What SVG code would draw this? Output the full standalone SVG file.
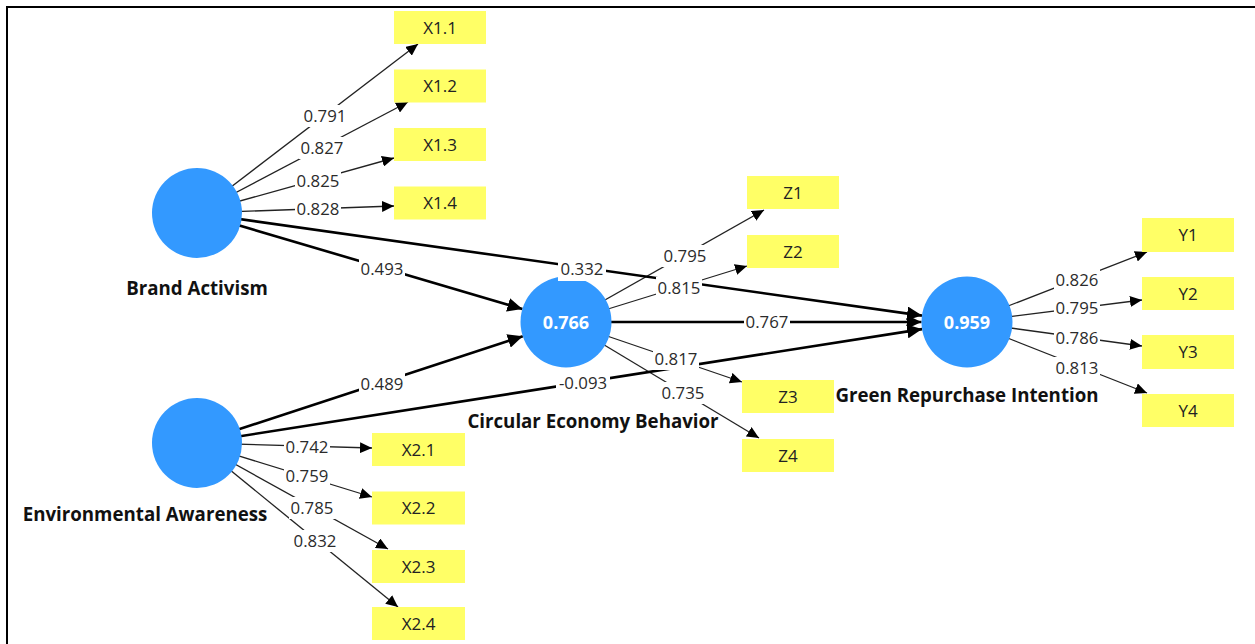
<svg xmlns="http://www.w3.org/2000/svg" width="1255" height="644" viewBox="0 0 1255 644">
<style>
.frame{stroke:#000;stroke-width:2;fill:none}
.outer{stroke:#222;stroke-width:1.3;fill:none;marker-end:url(#ah)}
.inner{stroke:#000;stroke-width:2.6;fill:none;marker-end:url(#ahb)}
.lv{fill:#3399ff}
.ind{fill:#ffff66}
.it{font-family:"Open Sans","Noto Sans",sans-serif;font-size:17px;fill:#222;text-anchor:middle}
.nm{font-family:"Open Sans","Noto Sans",sans-serif;font-size:18.7px;font-weight:bold;fill:#111;text-anchor:middle}
.r2{font-family:"Open Sans","Noto Sans",sans-serif;font-size:18px;font-weight:bold;fill:#fff;text-anchor:middle}
.el{font-family:"Open Sans","Noto Sans",sans-serif;font-size:16.8px;fill:#2b2b2b;text-anchor:middle}
.lb{fill:#fff}
</style>
<defs>
<marker id="ah" markerUnits="userSpaceOnUse" markerWidth="12" markerHeight="11" refX="12" refY="5.5" orient="auto"><path d="M0,0 L12,5.5 L0,11 z" fill="#000"/></marker>
<marker id="ahb" markerUnits="userSpaceOnUse" markerWidth="15" markerHeight="14" refX="15" refY="7" orient="auto"><path d="M0,0 L15,7 L0,14 z" fill="#000"/></marker>
</defs>
<rect width="1255" height="644" fill="#fff"/>
<path class="frame" d="M7,644 V7 H1255"/>
<g id="connectors">
<line class="outer" x1="197" y1="213" x2="418" y2="44"/>
<line class="outer" x1="197" y1="213" x2="408" y2="102"/>
<line class="outer" x1="197" y1="213" x2="394" y2="158"/>
<line class="outer" x1="197" y1="213" x2="394" y2="206"/>
<line class="outer" x1="197" y1="443" x2="372" y2="448"/>
<line class="outer" x1="197" y1="443" x2="372" y2="497"/>
<line class="outer" x1="197" y1="443" x2="388" y2="549"/>
<line class="outer" x1="197" y1="443" x2="398" y2="607"/>
<line class="outer" x1="566" y1="322" x2="764" y2="210"/>
<line class="outer" x1="566" y1="322" x2="747" y2="266"/>
<line class="outer" x1="566" y1="322" x2="742" y2="382"/>
<line class="outer" x1="566" y1="322" x2="759" y2="438"/>
<line class="outer" x1="967" y1="322" x2="1147" y2="252"/>
<line class="outer" x1="967" y1="322" x2="1142" y2="300"/>
<line class="outer" x1="967" y1="322" x2="1142" y2="346"/>
<line class="outer" x1="967" y1="322" x2="1147" y2="393"/>
<line class="inner" x1="197" y1="213" x2="522.4" y2="309.1"/>
<line class="inner" x1="197" y1="443" x2="522.8" y2="336.2"/>
<line class="inner" x1="197" y1="213" x2="922" y2="315.6"/>
<line class="inner" x1="197" y1="443" x2="922.1" y2="329.1"/>
<line class="inner" x1="566" y1="322" x2="921.5" y2="322"/>
</g>
<g id="brand-activism"><circle class="lv" cx="197" cy="213" r="45"/><text class="nm" x="197" y="295">Brand Activism</text></g>
<g id="environmental-awareness"><circle class="lv" cx="197" cy="443" r="45"/><text class="nm" x="145" y="521">Environmental Awareness</text></g>
<g id="circular-economy-behavior"><circle class="lv" cx="566" cy="322" r="45.5"/><text class="r2" x="566" y="328.5">0.766</text><text class="nm" x="593" y="428">Circular Economy Behavior</text></g>
<g id="green-repurchase-intention"><circle class="lv" cx="967" cy="322" r="45.5"/><text class="r2" x="967" y="328.5">0.959</text><text class="nm" x="967" y="402">Green Repurchase Intention</text></g>
<g id="x1-1"><rect class="ind" x="394" y="11" width="92" height="33"/><text class="it" x="440" y="33.5">X1.1</text></g>
<g id="x1-2"><rect class="ind" x="394" y="69.5" width="92" height="33"/><text class="it" x="440" y="92">X1.2</text></g>
<g id="x1-3"><rect class="ind" x="394" y="128" width="92" height="33"/><text class="it" x="440" y="150.5">X1.3</text></g>
<g id="x1-4"><rect class="ind" x="394" y="186.5" width="92" height="33"/><text class="it" x="440" y="209">X1.4</text></g>
<g id="x2-1"><rect class="ind" x="372" y="433" width="93" height="33"/><text class="it" x="418.5" y="455.5">X2.1</text></g>
<g id="x2-2"><rect class="ind" x="372" y="491.5" width="93" height="33"/><text class="it" x="418.5" y="514">X2.2</text></g>
<g id="x2-3"><rect class="ind" x="372" y="550" width="93" height="33"/><text class="it" x="418.5" y="572.5">X2.3</text></g>
<g id="x2-4"><rect class="ind" x="372" y="607" width="93" height="33"/><text class="it" x="418.5" y="629.5">X2.4</text></g>
<g id="z1"><rect class="ind" x="747" y="176" width="92" height="33"/><text class="it" x="793" y="198.5">Z1</text></g>
<g id="z2"><rect class="ind" x="747" y="235" width="92" height="33"/><text class="it" x="793" y="257.5">Z2</text></g>
<g id="z3"><rect class="ind" x="742" y="380" width="92" height="33"/><text class="it" x="788" y="402.5">Z3</text></g>
<g id="z4"><rect class="ind" x="742" y="439" width="92" height="33"/><text class="it" x="788" y="461.5">Z4</text></g>
<g id="y1"><rect class="ind" x="1142" y="218" width="92" height="34"/><text class="it" x="1188" y="241">Y1</text></g>
<g id="y2"><rect class="ind" x="1142" y="277" width="92" height="33"/><text class="it" x="1188" y="299.5">Y2</text></g>
<g id="y3"><rect class="ind" x="1142" y="335" width="92" height="34"/><text class="it" x="1188" y="358">Y3</text></g>
<g id="y4"><rect class="ind" x="1142" y="394" width="92" height="33"/><text class="it" x="1188" y="416.5">Y4</text></g>
<g id="connector-labels">
<rect class="lb" x="302" y="105" width="46" height="22"/><text class="el" x="325" y="122">0.791</text>
<rect class="lb" x="299" y="137" width="46" height="22"/><text class="el" x="322" y="154">0.827</text>
<rect class="lb" x="295" y="170" width="46" height="22"/><text class="el" x="318" y="187">0.825</text>
<rect class="lb" x="295" y="198" width="46" height="22"/><text class="el" x="318" y="215">0.828</text>
<rect class="lb" x="284" y="436" width="46" height="22"/><text class="el" x="307" y="453">0.742</text>
<rect class="lb" x="284" y="465" width="46" height="22"/><text class="el" x="307" y="482">0.759</text>
<rect class="lb" x="289" y="497" width="46" height="22"/><text class="el" x="312" y="514">0.785</text>
<rect class="lb" x="292" y="530" width="46" height="22"/><text class="el" x="315" y="547">0.832</text>
<rect class="lb" x="359" y="258" width="46" height="22"/><text class="el" x="382" y="275">0.493</text>
<rect class="lb" x="359" y="373" width="46" height="22"/><text class="el" x="382" y="390">0.489</text>
<rect class="lb" x="558" y="257" width="48" height="24"/><text class="el" x="582" y="275">0.332</text>
<rect class="lb" x="556" y="372" width="54" height="22"/><text class="el" x="583" y="389">-0.093</text>
<rect class="lb" x="744" y="311" width="46" height="22"/><text class="el" x="767" y="328">0.767</text>
<rect class="lb" x="662" y="245" width="46" height="22"/><text class="el" x="685" y="262">0.795</text>
<rect class="lb" x="656" y="277" width="46" height="22"/><text class="el" x="679" y="294">0.815</text>
<rect class="lb" x="653" y="348" width="46" height="22"/><text class="el" x="676" y="365">0.817</text>
<rect class="lb" x="660" y="382" width="46" height="22"/><text class="el" x="683" y="399">0.735</text>
<rect class="lb" x="1054" y="269" width="46" height="22"/><text class="el" x="1077" y="286">0.826</text>
<rect class="lb" x="1054" y="297" width="46" height="22"/><text class="el" x="1077" y="314">0.795</text>
<rect class="lb" x="1054" y="327" width="46" height="22"/><text class="el" x="1077" y="344">0.786</text>
<rect class="lb" x="1054" y="357" width="46" height="22"/><text class="el" x="1077" y="374">0.813</text>
</g>
</svg>
